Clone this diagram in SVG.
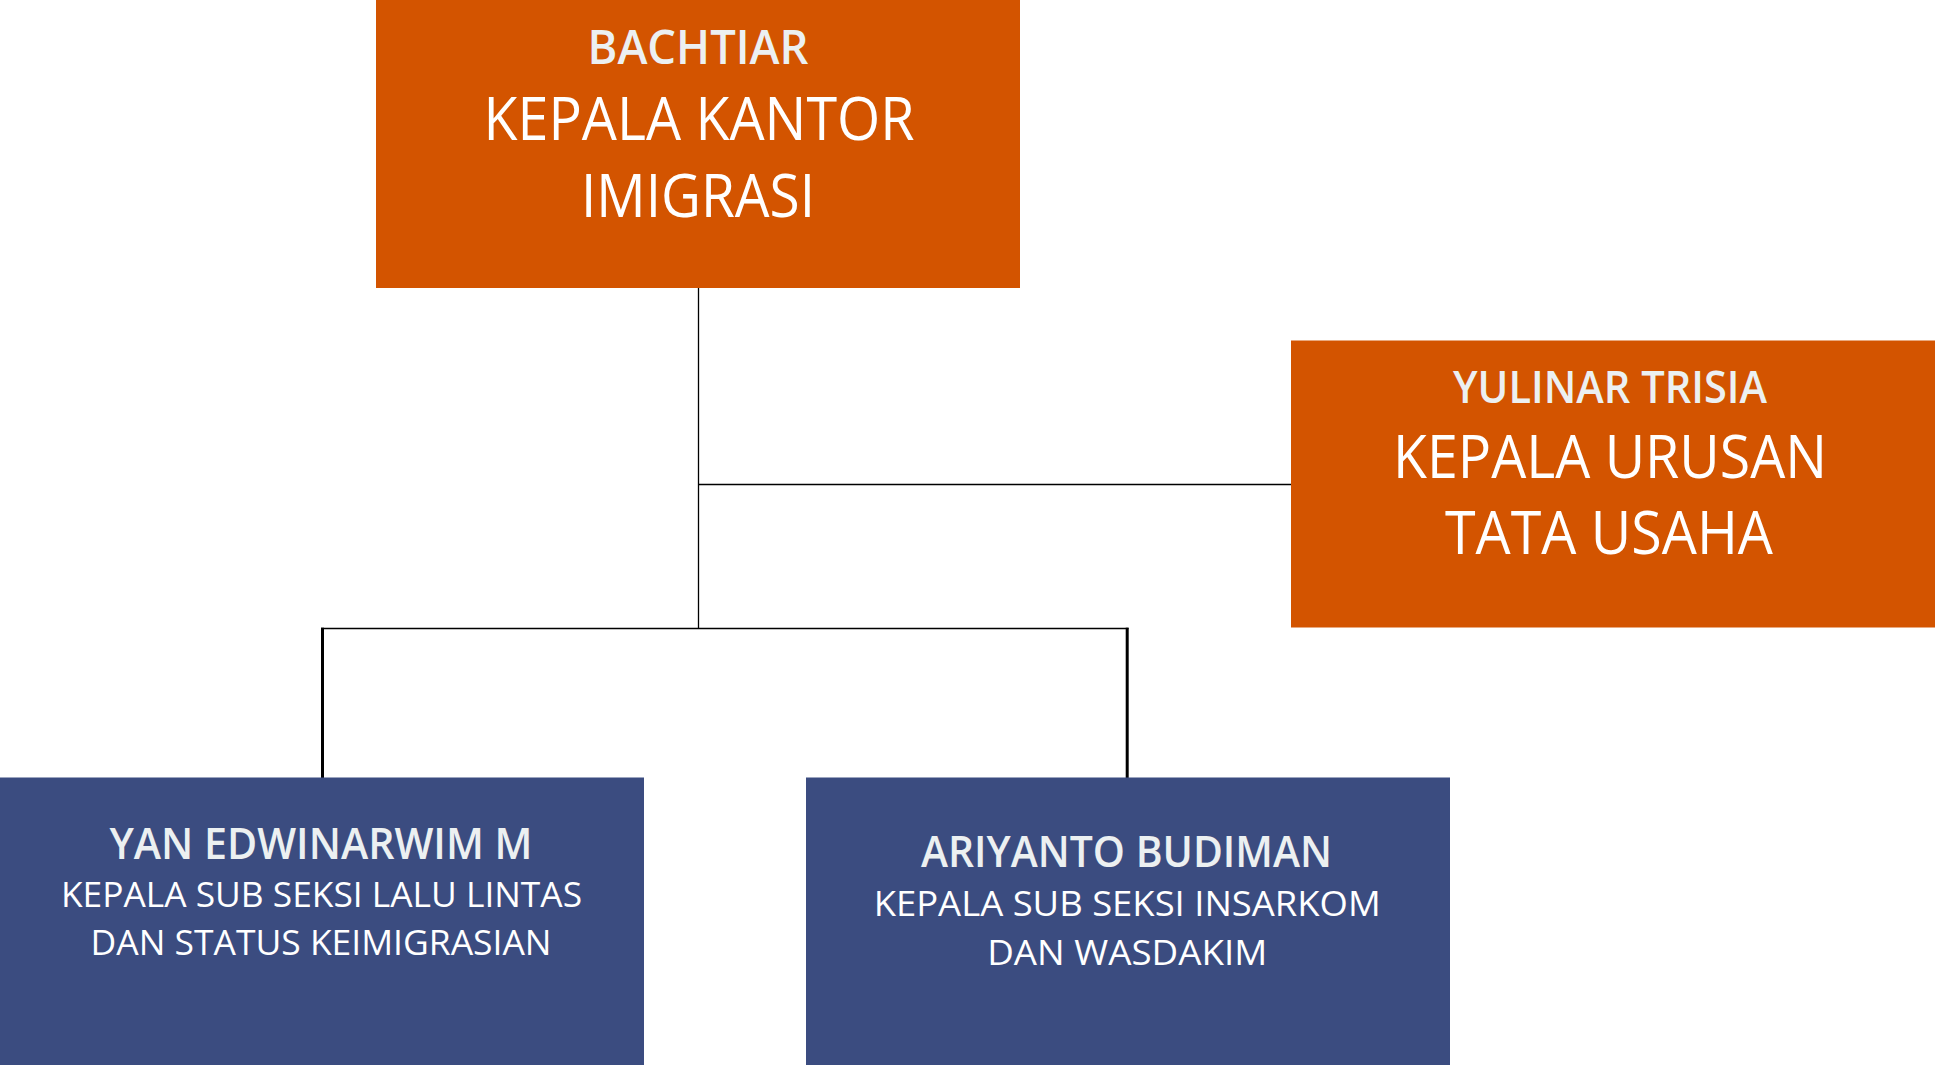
<svg xmlns="http://www.w3.org/2000/svg" width="1935" height="1065" viewBox="0 0 1935 1065">
<style>
.orange{fill:#D35400}
.blue{fill:#3B4C80}
.name{font-family:"Open Sans","Noto Sans",sans-serif;font-weight:600;fill:#ECF0F1;text-anchor:middle}
.title{font-family:"Open Sans","Noto Sans",sans-serif;font-weight:normal;fill:#FFFFFF;text-anchor:middle}
.thin{stroke:#000;stroke-width:1.3;fill:none}
.thick{stroke:#000;stroke-width:3;fill:none}
</style>
<rect width="1935" height="1065" fill="#FFFFFF"/>
<g id="connectors">
<line class="thin" x1="698.5" y1="287" x2="698.5" y2="629"/>
<line class="thin" x1="698" y1="484.5" x2="1292" y2="484.5"/>
<line class="thin" x1="321" y1="628.5" x2="1128.5" y2="628.5" style="stroke-width:1.6"/>
<line class="thick" x1="322.5" y1="627.7" x2="322.5" y2="778"/>
<line class="thick" x1="1127.2" y1="627.7" x2="1127.2" y2="778"/>
</g>
<g id="node-bachtiar">
<rect class="orange" x="376" y="0" width="644" height="288"/>
<text class="name" x="698" y="64.3" font-size="47" textLength="221" lengthAdjust="spacingAndGlyphs">BACHTIAR</text>
<text class="title" x="699" y="140" font-size="60" textLength="431" lengthAdjust="spacingAndGlyphs">KEPALA KANTOR</text>
<text class="title" x="698" y="217.3" font-size="61" textLength="234" lengthAdjust="spacingAndGlyphs">IMIGRASI</text>
</g>
<g id="node-yulinar">
<rect class="orange" x="1291" y="340.5" width="644" height="287"/>
<text class="name" x="1610" y="402.7" font-size="45" textLength="314" lengthAdjust="spacingAndGlyphs">YULINAR TRISIA</text>
<text class="title" x="1610" y="477.7" font-size="60" textLength="434" lengthAdjust="spacingAndGlyphs">KEPALA URUSAN</text>
<text class="title" x="1609" y="554" font-size="60" textLength="328" lengthAdjust="spacingAndGlyphs">TATA USAHA</text>
</g>
<g id="node-yan">
<rect class="blue" x="0" y="777.5" width="644" height="287.5"/>
<text class="name" x="321" y="859.3" font-size="43.5" textLength="423" lengthAdjust="spacingAndGlyphs">YAN EDWINARWIM M</text>
<text class="title" x="321.5" y="906.7" font-size="34" textLength="521" lengthAdjust="spacingAndGlyphs">KEPALA SUB SEKSI LALU LINTAS</text>
<text class="title" x="321" y="955" font-size="34" textLength="461" lengthAdjust="spacingAndGlyphs">DAN STATUS KEIMIGRASIAN</text>
</g>
<g id="node-ariyanto">
<rect class="blue" x="806" y="777.5" width="644" height="287.5"/>
<text class="name" x="1126.5" y="866.7" font-size="43" textLength="411" lengthAdjust="spacingAndGlyphs">ARIYANTO BUDIMAN</text>
<text class="title" x="1127.2" y="916" font-size="34" textLength="507" lengthAdjust="spacingAndGlyphs">KEPALA SUB SEKSI INSARKOM</text>
<text class="title" x="1127.2" y="965" font-size="34" textLength="280" lengthAdjust="spacingAndGlyphs">DAN WASDAKIM</text>
</g>
</svg>
